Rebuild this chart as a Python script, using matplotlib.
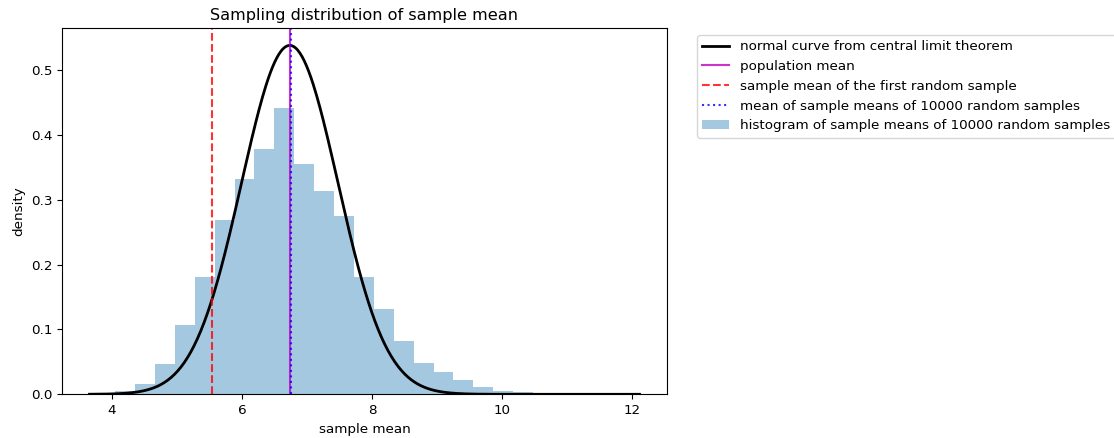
import numpy as np
import matplotlib
matplotlib.use("Agg")
import matplotlib.pyplot as plt

# histogram of sample means (density)
bin_start = 3.742
bin_width = 0.3062
hist_heights = [0.001, 0.005, 0.016, 0.047, 0.107, 0.181, 0.269, 0.332, 0.379, 0.442,
                0.355, 0.313, 0.275, 0.1815, 0.132, 0.082, 0.048, 0.034, 0.0215, 0.0115,
                0.0056, 0.003, 0.0012, 0.0006, 0.0003]
bin_edges = bin_start + bin_width * np.arange(len(hist_heights) + 1)

# normal curve from the central limit theorem
clt_mu = 6.735
clt_sigma = 0.7416
curve_min, curve_max = 3.653, 12.117

population_mean = 6.733
first_sample_mean = 5.534
mean_of_sample_means = 6.757

plt.rcParams['font.size'] = 9.7

W, H, DPI = 1114, 438, 100
fig = plt.figure(figsize=(W / DPI, H / DPI), dpi=DPI)
ax = fig.add_axes([62 / W, 1 - 394.3 / H, 605 / W, 366.3 / H])

x_vals = np.linspace(curve_min, curve_max, 500)
y_vals = np.exp(-0.5 * ((x_vals - clt_mu) / clt_sigma) ** 2) / (clt_sigma * np.sqrt(2 * np.pi))
ax.plot(x_vals, y_vals, color='k', lw=2, label="normal curve from central limit theorem")

ax.axvline(population_mean, color='m', lw=1.5, alpha=0.8, label="population mean")
ax.axvline(first_sample_mean, color='r', ls='--', lw=1.5, alpha=0.8,
           label="sample mean of the first random sample")
ax.axvline(mean_of_sample_means, color='b', ls=':', lw=1.5, alpha=0.8,
           label="mean of sample means of 10000 random samples")

ax.hist(bin_edges[:-1], bins=bin_edges, weights=hist_heights, color='#1f77b4', alpha=0.4,
        label="histogram of sample means of 10000 random samples")

ax.set_xticks([4, 6, 8, 10, 12])
ax.set_yticks([0.0, 0.1, 0.2, 0.3, 0.4, 0.5])
ax.set_xlabel("sample mean")
ax.set_ylabel("density")
ax.set_title("Sampling distribution of sample mean", fontsize='large')
ax.legend(bbox_to_anchor=(697 / W, 1 - 35 / H), bbox_transform=fig.transFigure,
          loc='upper left', borderaxespad=0.)

fig.savefig("out.png", dpi=DPI)
